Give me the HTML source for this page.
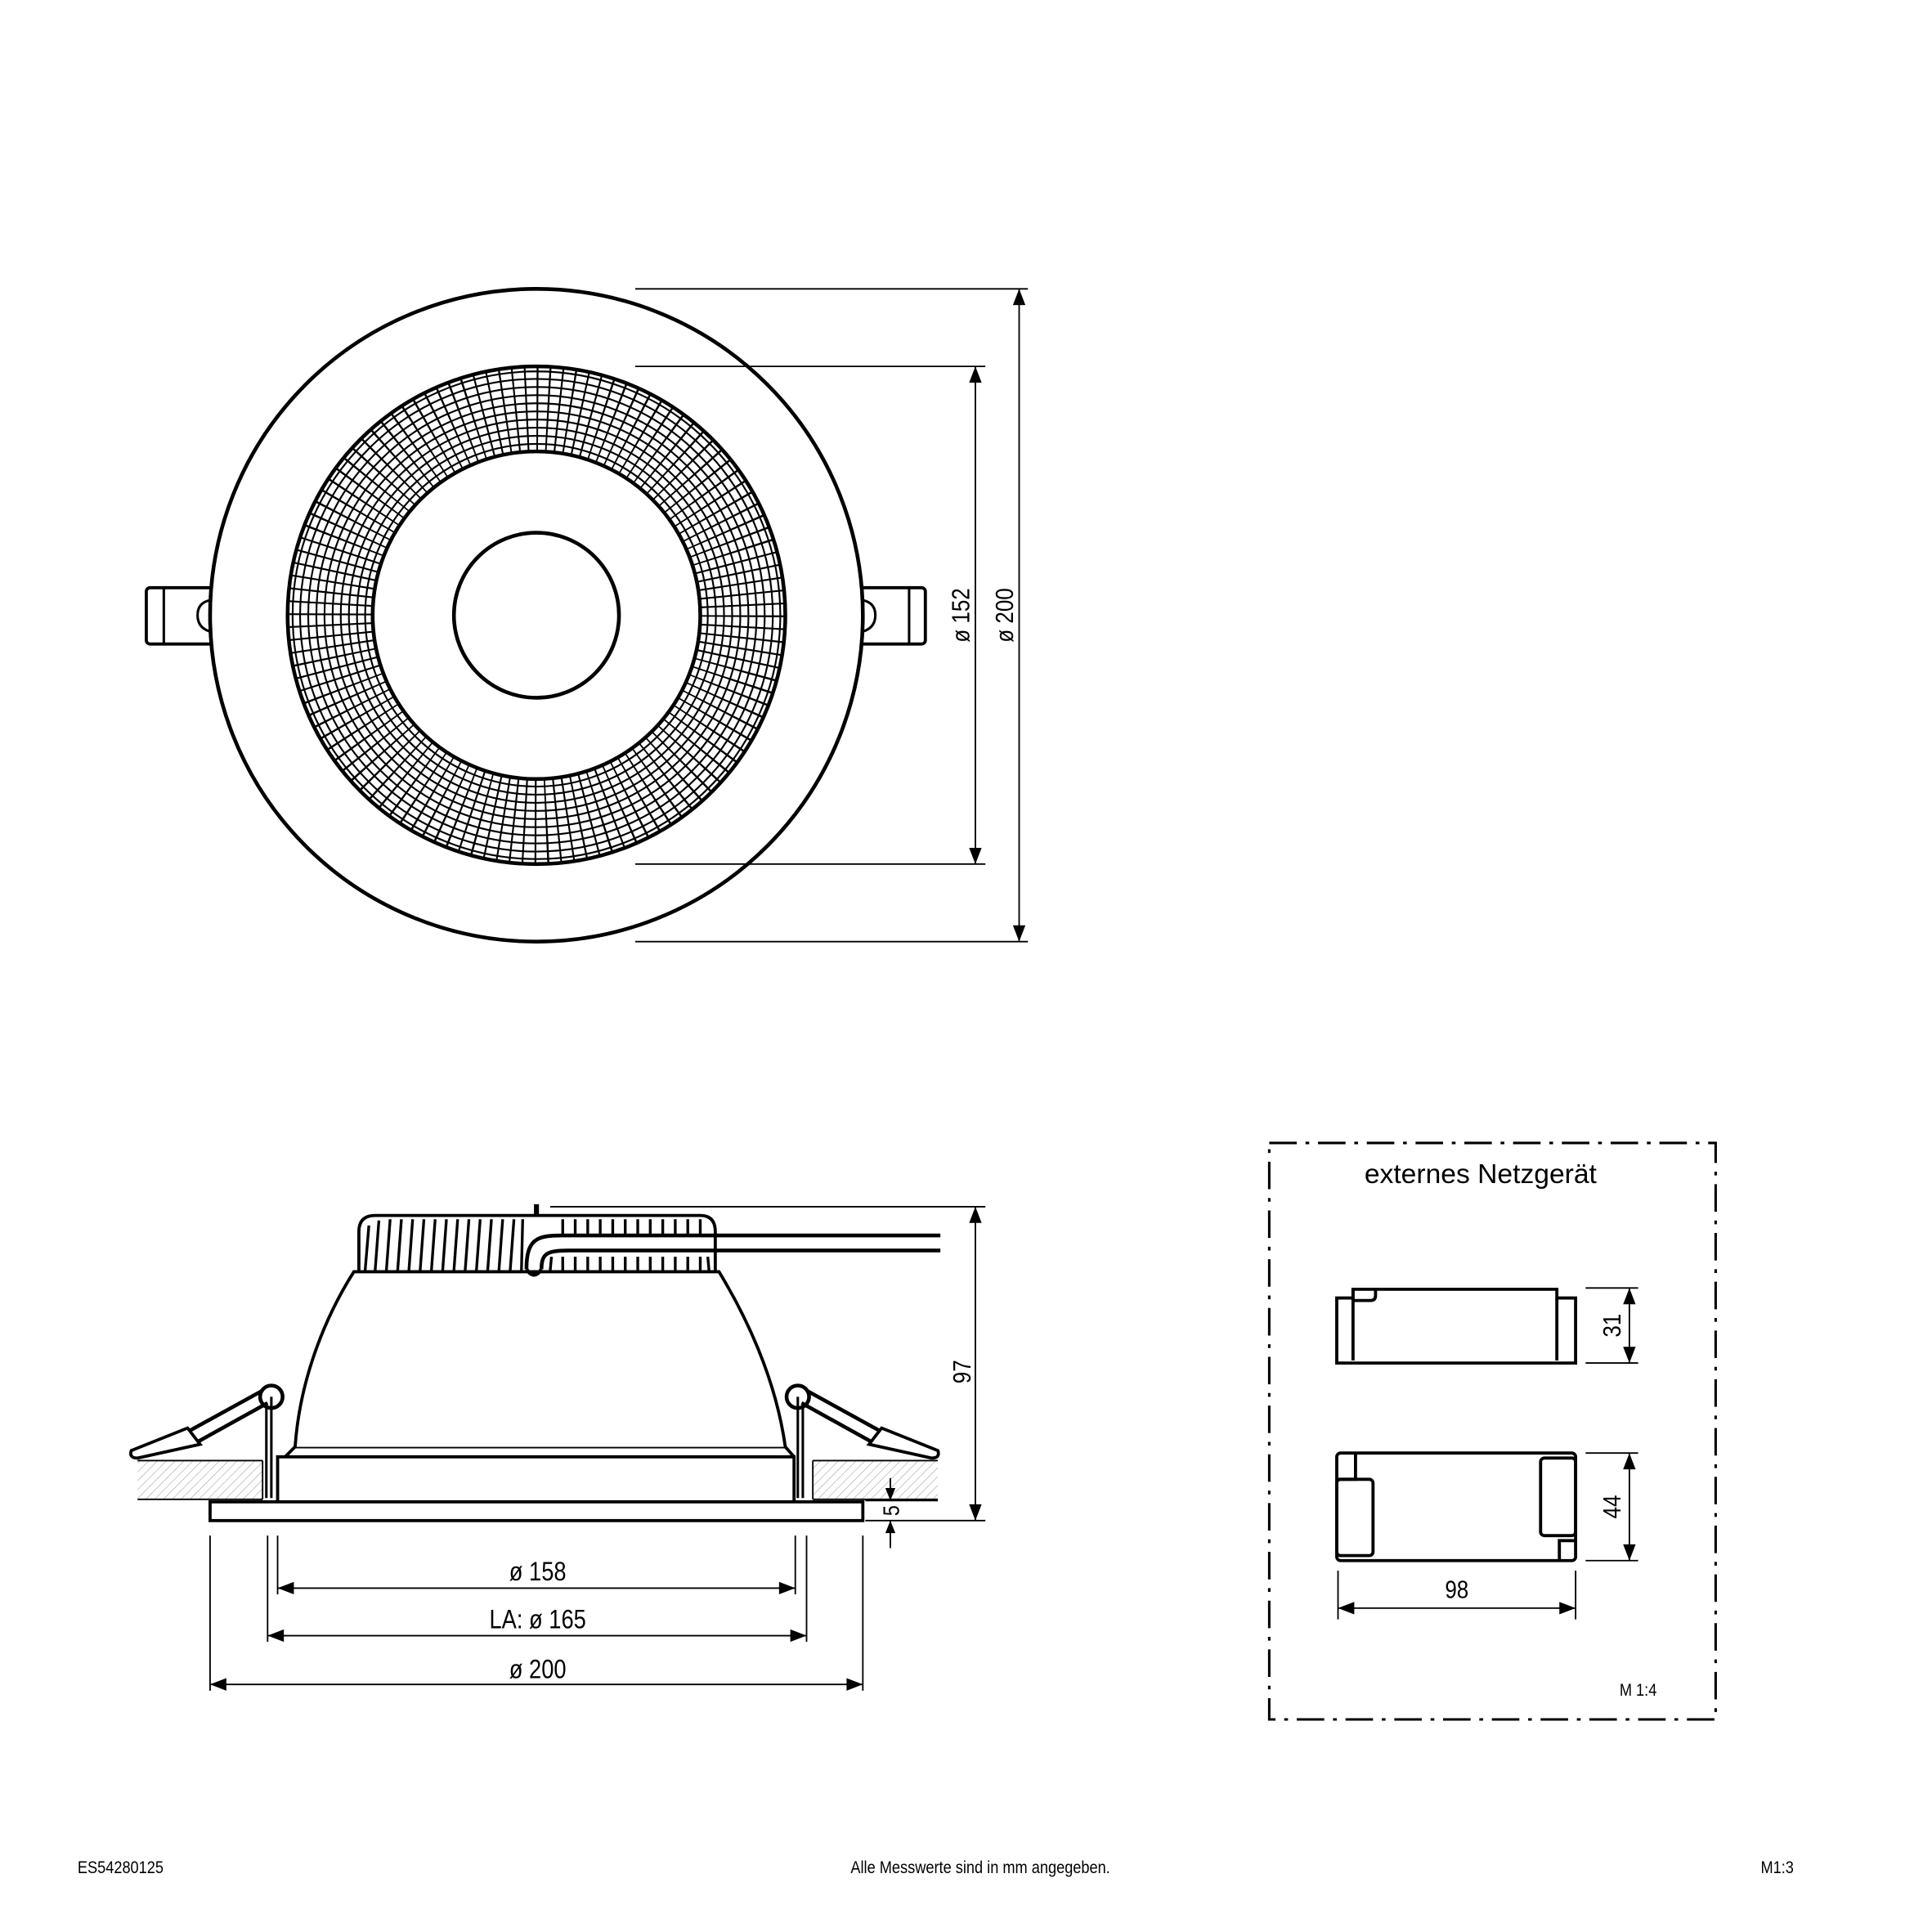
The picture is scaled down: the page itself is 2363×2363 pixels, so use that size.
<!DOCTYPE html>
<html><head><meta charset="utf-8"><style>
html,body{margin:0;padding:0;background:#fff}
svg{display:block}
text{font-family:"Liberation Sans",sans-serif;fill:#000}
</style></head><body>
<svg width="2363" height="2363" viewBox="0 0 1545 1545" xmlns="http://www.w3.org/2000/svg">
<defs>
<pattern id="h" width="5" height="5" patternUnits="userSpaceOnUse" patternTransform="rotate(45)">
<line x1="0" y1="0" x2="0" y2="5" stroke="#999" stroke-width="0.7"/>
</pattern>
</defs>
<g fill="none" stroke="#000">
<!-- TOP VIEW -->
<rect x="117" y="470" width="56" height="45" rx="3" stroke-width="2.5" fill="#fff"/>
<line x1="131" y1="471" x2="131" y2="514" stroke-width="2"/>
<path d="M168 480 Q158 482 158 492 Q158 502 168 505" stroke-width="2"/>
<rect x="686" y="470" width="54" height="45" rx="3" stroke-width="2.5" fill="#fff"/>
<line x1="727" y1="471" x2="727" y2="514" stroke-width="2"/>
<path d="M690 480 Q700 482 700 492 Q700 502 690 505" stroke-width="2"/>
<circle cx="429" cy="492" r="261" stroke-width="3" fill="#fff"/>
<circle cx="429" cy="492" r="165" stroke-width="66" stroke-dasharray="1.4 7.239"/>
<g stroke-width="1.4">
<circle cx="429" cy="492" r="137"/><circle cx="429" cy="492" r="143.5"/><circle cx="429" cy="492" r="150"/>
<circle cx="429" cy="492" r="156.5"/><circle cx="429" cy="492" r="163"/><circle cx="429" cy="492" r="169.5"/>
<circle cx="429" cy="492" r="176"/><circle cx="429" cy="492" r="182.5"/><circle cx="429" cy="492" r="189"/>
<circle cx="429" cy="492" r="195"/>
</g>
<circle cx="429" cy="492" r="199" stroke-width="3"/>
<circle cx="429" cy="492" r="131" stroke-width="3" fill="#fff"/>
<circle cx="429" cy="492" r="66" stroke-width="3"/>
<g stroke-width="1.2">
<line x1="508" y1="231" x2="822" y2="231"/>
<line x1="508" y1="293" x2="788" y2="293"/>
<line x1="508" y1="691" x2="788" y2="691"/>
<line x1="508" y1="753" x2="822" y2="753"/>
<line x1="815" y1="231" x2="815" y2="753"/>
<line x1="780" y1="293" x2="780" y2="691"/>
</g>
</g>
<g fill="#000">
<path d="M815 231 l-5 13 h10z M815 753 l-5 -13 h10z M780 293 l-5 13 h10z M780 691 l-5 -13 h10z"/>
</g>
<text transform="translate(775,492) rotate(-90) scale(0.85,1)" font-size="20" text-anchor="middle">ø 152</text>
<text transform="translate(810,492) rotate(-90) scale(0.85,1)" font-size="20" text-anchor="middle">ø 200</text>

<!-- SIDE VIEW -->
<rect x="110" y="1168" width="100" height="31" fill="url(#h)"/>
<rect x="650" y="1168" width="100" height="31" fill="url(#h)"/>
<g fill="none" stroke="#000">
<line x1="110" y1="1168" x2="210" y2="1168" stroke-width="1.2"/>
<line x1="110" y1="1199" x2="210" y2="1199" stroke-width="1.2"/>
<line x1="210" y1="1168" x2="210" y2="1199" stroke-width="1.2"/>
<line x1="650" y1="1168" x2="750" y2="1168" stroke-width="1.2"/>
<line x1="650" y1="1199" x2="750" y2="1199" stroke-width="1.2"/>
<line x1="650" y1="1168" x2="650" y2="1199" stroke-width="1.2"/>
<rect x="168" y="1201" width="522" height="15" stroke-width="2.5" fill="#fff"/>
<path d="M222 1200 V1165 H635 V1200" stroke-width="2.5"/>
<path d="M228 1165 L236 1157 H628 L635 1165" stroke-width="2.5"/>
<path d="M236 1157 C240 1100 262 1050 283 1017 H575 C595 1050 620 1100 628 1157" stroke-width="2.5" fill="#fff"/>
<path d="M287 1017 V985 Q287 972 300 972 H560 Q572 972 572 985 V1017" stroke-width="2.5"/>
<g stroke-width="2.2">
<line x1="292" y1="1016" x2="295" y2="980"/><line x1="300" y1="1016" x2="303" y2="976"/>
<line x1="309" y1="1016" x2="312" y2="975"/><line x1="318" y1="1016" x2="321" y2="975"/>
<line x1="327" y1="1016" x2="330" y2="975"/><line x1="336" y1="1016" x2="339" y2="975"/>
<line x1="345" y1="1016" x2="348" y2="975"/><line x1="354" y1="1016" x2="357" y2="975"/>
<line x1="363" y1="1016" x2="366" y2="975"/><line x1="372" y1="1016" x2="375" y2="975"/>
<line x1="381" y1="1016" x2="384" y2="975"/><line x1="390" y1="1016" x2="393" y2="975"/>
<line x1="399" y1="1016" x2="402" y2="975"/><line x1="408" y1="1016" x2="411" y2="975"/>
<line x1="417" y1="1016" x2="418" y2="975"/>
<line x1="440" y1="1016" x2="441" y2="1005"/><line x1="450" y1="1016" x2="450" y2="1005"/>
<line x1="460" y1="1016" x2="460" y2="1005"/><line x1="470" y1="1016" x2="470" y2="1005"/>
<line x1="480" y1="1016" x2="480" y2="1005"/><line x1="490" y1="1016" x2="490" y2="1005"/>
<line x1="500" y1="1016" x2="500" y2="1005"/><line x1="510" y1="1016" x2="510" y2="1005"/>
<line x1="520" y1="1016" x2="520" y2="1005"/><line x1="530" y1="1016" x2="530" y2="1005"/>
<line x1="540" y1="1016" x2="540" y2="1005"/><line x1="550" y1="1016" x2="550" y2="1005"/>
<line x1="560" y1="1016" x2="560" y2="1005"/><line x1="567" y1="1016" x2="566" y2="1005"/>
<line x1="450" y1="988" x2="450" y2="975"/><line x1="460" y1="988" x2="460" y2="975"/>
<line x1="470" y1="988" x2="470" y2="975"/><line x1="480" y1="988" x2="480" y2="975"/>
<line x1="490" y1="988" x2="490" y2="975"/><line x1="500" y1="988" x2="500" y2="975"/>
<line x1="510" y1="988" x2="510" y2="975"/><line x1="520" y1="988" x2="520" y2="975"/>
<line x1="530" y1="988" x2="530" y2="975"/><line x1="540" y1="988" x2="540" y2="975"/>
<line x1="550" y1="988" x2="550" y2="975"/><line x1="560" y1="988" x2="560" y2="975"/>
</g>
<line x1="429" y1="963" x2="429" y2="972" stroke-width="4"/>
<path d="M421 1015 C421 990 430 988 450 988 H752" stroke-width="3"/>
<path d="M433 1015 C433 1002 438 1000 455 1000 H752" stroke-width="3"/>
<path d="M421 1015 Q427 1024 433 1015" stroke-width="3"/>
<!-- clips -->
<circle cx="217" cy="1117" r="9" stroke-width="3" fill="#fff"/>
<circle cx="638" cy="1117" r="9" stroke-width="3" fill="#fff"/>
<path d="M217 1117 V1198 M213 1125 V1198" stroke-width="2"/>
<path d="M638 1117 V1198 M642 1125 V1198" stroke-width="2"/>
<path d="M210 1112 L150 1145 M214 1122 L158 1153" stroke-width="3"/>
<path d="M150 1142 L105 1160 Q103 1166 110 1166 L160 1155 Z" stroke-width="2.5" fill="#fff"/>
<path d="M645 1112 L705 1145 M641 1122 L697 1153" stroke-width="3"/>
<path d="M705 1142 L750 1160 Q752 1166 745 1166 L695 1155 Z" stroke-width="2.5" fill="#fff"/>
<g stroke-width="1.2">
<line x1="440" y1="965" x2="788" y2="965"/>
<line x1="692" y1="1216" x2="788" y2="1216"/>
<line x1="692" y1="1200" x2="750" y2="1200"/>
<line x1="780" y1="965" x2="780" y2="1216"/>
<line x1="712" y1="1182" x2="712" y2="1200"/>
<line x1="712" y1="1216" x2="712" y2="1238"/>
<line x1="168" y1="1228" x2="168" y2="1352"/>
<line x1="690" y1="1228" x2="690" y2="1352"/>
<line x1="214" y1="1228" x2="214" y2="1313"/>
<line x1="645" y1="1228" x2="645" y2="1313"/>
<line x1="222" y1="1228" x2="222" y2="1275"/>
<line x1="636" y1="1228" x2="636" y2="1275"/>
<line x1="222" y1="1270" x2="636" y2="1270"/>
<line x1="214" y1="1308" x2="645" y2="1308"/>
<line x1="168" y1="1347" x2="690" y2="1347"/>
</g>
</g>
<g fill="#000">
<path d="M780 965 l-5 13 h10z M780 1216 l-5 -13 h10z"/>
<path d="M712 1200 l-4 -10 h8z M712 1216 l-4 10 h8z"/>
<path d="M222 1270 l13 -5 v10z M636 1270 l-13 -5 v10z"/>
<path d="M214 1308 l13 -5 v10z M645 1308 l-13 -5 v10z"/>
<path d="M168 1347 l13 -5 v10z M690 1347 l-13 -5 v10z"/>
</g>
<text transform="translate(776,1097) rotate(-90) scale(0.85,1)" font-size="20" text-anchor="middle">97</text>
<text transform="translate(719,1208) rotate(-90) scale(0.85,1)" font-size="18" text-anchor="middle">5</text>
<text transform="translate(430,1264) scale(0.85,1)" font-size="21" text-anchor="middle">ø 158</text>
<text transform="translate(430,1302) scale(0.85,1)" font-size="21" text-anchor="middle">LA: ø 165</text>
<text transform="translate(430,1342) scale(0.85,1)" font-size="21" text-anchor="middle">ø 200</text>

<!-- PSU BOX -->
<rect x="1015" y="914" width="357" height="461" fill="none" stroke="#000" stroke-width="2" stroke-dasharray="22 7 3 7"/>
<text x="1184" y="946" font-size="22" text-anchor="middle">externes Netzgerät</text>
<g fill="none" stroke="#000" stroke-width="2.5">
<path d="M1069 1038 H1082 V1031 H1245 V1038 H1260 V1090 H1069 Z"/>
<path d="M1082 1038 V1088 M1245 1038 V1088 M1082 1031 V1040 H1096 Q1100 1040 1100 1036 V1031"/>
<rect x="1069" y="1162" width="191" height="86" rx="3"/>
<path d="M1069 1183 H1084 V1162"/>
<rect x="1069" y="1183" width="29" height="61" rx="3"/>
<rect x="1232" y="1166" width="28" height="62" rx="3"/>
<path d="M1247 1248 V1232 H1260"/>
</g>
<g fill="none" stroke="#000" stroke-width="1.2">
<line x1="1268" y1="1030" x2="1310" y2="1030"/>
<line x1="1268" y1="1090" x2="1310" y2="1090"/>
<line x1="1303" y1="1030" x2="1303" y2="1090"/>
<line x1="1268" y1="1162" x2="1310" y2="1162"/>
<line x1="1268" y1="1248" x2="1310" y2="1248"/>
<line x1="1303" y1="1162" x2="1303" y2="1248"/>
<line x1="1070" y1="1256" x2="1070" y2="1295"/>
<line x1="1260" y1="1256" x2="1260" y2="1295"/>
<line x1="1070" y1="1286" x2="1260" y2="1286"/>
</g>
<g fill="#000">
<path d="M1303 1030 l-5 13 h10z M1303 1090 l-5 -13 h10z"/>
<path d="M1303 1162 l-5 13 h10z M1303 1248 l-5 -13 h10z"/>
<path d="M1070 1286 l13 -5 v10z M1260 1286 l-13 -5 v10z"/>
</g>
<text transform="translate(1296,1060) rotate(-90) scale(0.85,1)" font-size="20" text-anchor="middle">31</text>
<text transform="translate(1296,1205) rotate(-90) scale(0.85,1)" font-size="20" text-anchor="middle">44</text>
<text transform="translate(1165,1278) scale(0.85,1)" font-size="20" text-anchor="middle">98</text>
<text transform="translate(1310,1356) scale(0.85,1)" font-size="14" text-anchor="middle">M 1:4</text>

<!-- FOOTER -->
<text transform="translate(62,1498) scale(0.85,1)" font-size="14">ES54280125</text>
<text transform="translate(784,1498) scale(0.85,1)" font-size="14" text-anchor="middle">Alle Messwerte sind in mm angegeben.</text>
<text transform="translate(1408,1498) scale(0.85,1)" font-size="14">M1:3</text>
</svg>
</body></html>
